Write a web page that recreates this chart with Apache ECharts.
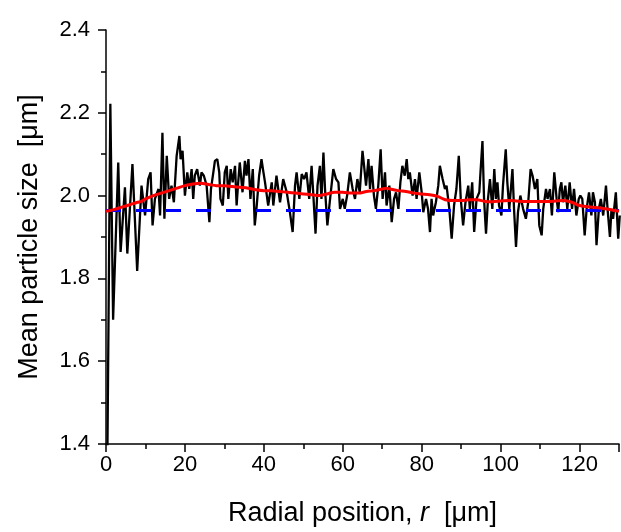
<!DOCTYPE html>
<html>
<head>
<meta charset="utf-8">
<script src="https://cdn.jsdelivr.net/npm/echarts@6/dist/echarts.min.js"></script>
<style>
html,body{margin:0;padding:0;background:#fff;}
#chart{width:621px;height:532px;}
</style>
</head>
<body>
<div id="chart"></div>
<script>
// Measured (noisy) mean particle size vs radial position
var rPos = [0.2,1.1,1.8,3.1,3.7,4.8,5.4,6.7,7.9,9.0,
  9.9,10.7,11.3,11.8,12.4,13.3,13.7,14.3,14.8,15.4,16.0,16.6,17.2,17.9,18.6,18.9,19.4,20.0,20.6,21.1,21.7,22.1,22.5,23.1,23.8,24.2,24.8,25.5,26.2,26.6,27.2,27.6,28.2,28.7,29.0,29.6,30.1,30.6,31.0,31.6,32.1,32.7,33.1,33.5,33.9,34.6,35.2,35.6,36.1,36.6,37.2,37.7,38.2,38.8,39.4,39.9,40.3,41.1,42.0,42.4,43.2,
  44.1,44.9,45.8,46.6,47.3,47.9,48.3,49.0,49.6,50.2,50.8,51.5,52.1,52.5,53.1,53.6,54.2,54.6,55.1,55.5,56.1,56.7,57.6,58.3,58.9,59.3,60.0,60.5,61.1,61.8,62.5,63.1,63.7,64.3,65.0,65.4,65.9,66.5,66.9,67.3,67.9,68.4,69.0,69.6,70.1,70.7,71.1,71.8,72.4,73.0,73.5,74.1,74.6,75.1,75.7,76.2,76.6,77.0,77.7,78.3,78.7,79.4,80.0,80.4,81.1,81.6,82.1,82.5,82.9,83.6,84.2,
  84.6,85.3,85.9,86.3,87.0,87.6,88.2,88.8,89.4,89.9,90.5,91.1,91.8,92.2,92.8,93.3,93.9,94.6,94.9,95.4,95.8,96.3,96.8,97.3,97.9,98.4,98.8,99.2,99.6,100.2,100.6,101.3,101.7,102.2,102.6,103.0,103.4,103.9,104.4,105.0,105.7,106.4,107.0,107.6,108.1,108.7,109.3,109.8,110.4,110.8,111.5,111.9,112.5,113.0,113.6,114.2,114.6,115.0,115.4,115.8,116.4,116.9,117.5,118.1,118.6,119.2,119.8,120.2,120.7,121.3,121.8,122.4,123.0,123.4,123.9,124.3,124.9,125.4,126.0,126.7,127.1,127.7,128.1,128.5,129.2,129.8,130.2];
var meanSize = [1.20,2.222,1.700,2.080,1.864,2.020,1.860,2.076,1.818,2.024,
  1.952,2.040,2.056,1.928,1.992,2.016,1.952,2.152,1.944,2.096,1.992,2.024,1.984,2.096,2.144,2.088,2.108,2.000,2.056,2.016,2.064,1.992,2.048,2.064,2.024,2.056,2.048,2.024,1.936,2.016,2.056,2.084,2.088,2.056,1.992,1.976,2.056,2.072,1.992,2.064,2.032,2.072,1.976,2.032,2.080,2.008,2.084,2.048,2.088,1.992,2.064,1.928,1.976,2.048,2.088,2.056,2.032,1.976,2.032,1.976,2.048,
  1.984,2.040,2.008,1.960,1.912,2.024,2.056,1.992,2.052,2.040,2.056,1.992,2.072,2.008,1.908,2.024,2.072,1.992,2.104,2.016,1.928,1.984,2.064,2.040,2.032,1.968,1.992,1.968,2.000,2.056,2.016,1.992,2.040,2.008,2.108,2.072,2.024,2.088,2.016,2.072,2.000,1.968,2.024,2.112,1.992,2.056,1.976,2.024,1.936,1.992,2.008,1.968,2.032,2.072,2.048,2.088,2.040,2.056,2.000,2.040,1.992,2.056,2.008,1.960,1.992,1.968,1.912,1.992,1.952,1.984,2.024,
  2.072,2.040,2.016,2.024,1.968,1.896,1.976,2.016,2.096,1.992,1.928,1.984,2.024,1.968,2.032,1.912,1.992,2.008,2.056,2.132,1.992,1.908,1.992,2.040,1.968,2.064,1.992,2.032,1.976,1.952,2.024,2.112,2.032,1.968,2.016,2.064,1.968,1.876,1.960,2.000,1.968,1.944,1.984,2.064,2.048,2.016,2.040,1.928,1.904,1.968,2.016,1.992,2.016,1.952,2.056,1.992,1.960,2.016,2.032,1.984,2.024,1.968,2.032,1.968,2.016,1.952,1.992,2.000,1.992,1.904,1.968,2.008,1.952,2.008,1.984,1.880,1.968,1.992,1.952,2.024,1.968,1.900,1.968,1.944,2.008,1.896,1.952];

// Smoothed trend
var smoothR = [0,1,2,4,6,8,9,10,12,14,16,18,20,22,24,26,28,30,32,34,36,38,40,42,44,46,48,50,52,54,56,58,60,62,64,66,68,70,71,72,74,76,78,80,82,84,86,88,90,92,94,96,98,100,102,104,106,108,110,112,114,116,118,120,122,124,126,128,130];
var smoothSize = [1.962,1.964,1.966,1.972,1.978,1.984,1.986,1.992,2.000,2.006,2.012,2.018,2.024,2.028,2.030,2.027,2.024,2.024,2.022,2.020,2.018,2.014,2.012,2.012,2.010,2.008,2.006,2.004,2.002,2.000,2.004,2.008,2.008,2.006,2.006,2.010,2.012,2.016,2.018,2.016,2.012,2.010,2.006,2.004,2.002,1.998,1.990,1.988,1.988,1.990,1.990,1.986,1.985,1.987,1.988,1.987,1.986,1.986,1.986,1.986,1.987,1.988,1.984,1.976,1.973,1.971,1.969,1.966,1.962];

// Overall mean (dashed reference)
var meanR = [0, 130];
var meanLevel = [1.964, 1.964];

var xTicks = {min: 0, max: 130, interval: 20};
var yTicks = {min: 1.4, max: 2.4, interval: 0.2};

function pairs(a, b){ return a.map(function(v,i){ return [v, b[i]]; }); }

var font = '"Liberation Sans", Arial, sans-serif';
var chart = echarts.init(document.getElementById('chart'), null, {renderer:'canvas'});
var axisCommon = {
  axisLine: {show: true, onZero: false, lineStyle: {color: '#000', width: 1.5}},
  axisTick: {show: true, inside: false, length: 8, lineStyle: {color: '#000', width: 1.5}},
  minorTick: {show: true, splitNumber: 2, length: 5, lineStyle: {color: '#000', width: 1.5}},
  splitLine: {show: false},
  minorSplitLine: {show: false}
};
chart.setOption({
  animation: false,
  backgroundColor: '#fff',
  grid: {left: 106, right: 2, top: 30, bottom: 84, containLabel: false},
  xAxis: Object.assign({
    type: 'value', min: xTicks.min, max: xTicks.max, interval: xTicks.interval,
    axisLabel: {show: true, showMaxLabel: false, margin: 10, color: '#000', fontSize: 22, fontFamily: font},
    name: '{n|Radial position, }{i|r}{n|  [μm]}',
    nameLocation: 'middle', nameGap: 56,
    nameTextStyle: {rich: {
      n: {fontSize: 27, fontFamily: font, color: '#000'},
      i: {fontSize: 27, fontFamily: font, color: '#000', fontStyle: 'italic'}
    }}
  }, axisCommon),
  yAxis: Object.assign({
    type: 'value', min: yTicks.min, max: yTicks.max, interval: yTicks.interval,
    axisLabel: {show: true, margin: 16, color: '#000', fontSize: 22, fontFamily: font,
      formatter: function(v){ return v.toFixed(1); }},
    name: 'Mean particle size  [μm]',
    nameLocation: 'middle', nameGap: 63,
    nameTextStyle: {fontSize: 27, fontFamily: font, color: '#000'}
  }, axisCommon),
  series: [
    {type: 'line', data: pairs(rPos, meanSize), showSymbol: false, symbol: 'none', clip: true,
      lineStyle: {color: '#000', width: 2.3}, z: 2},
    {type: 'line', data: pairs(meanR, meanLevel), showSymbol: false, symbol: 'none',
      lineStyle: {color: '#0000ff', width: 3, type: [15, 15]}, z: 3},
    {type: 'line', data: pairs(smoothR, smoothSize), showSymbol: false, symbol: 'none', smooth: 0.3,
      lineStyle: {color: '#ff0000', width: 3}, z: 4}
  ]
});
</script>
</body>
</html>
